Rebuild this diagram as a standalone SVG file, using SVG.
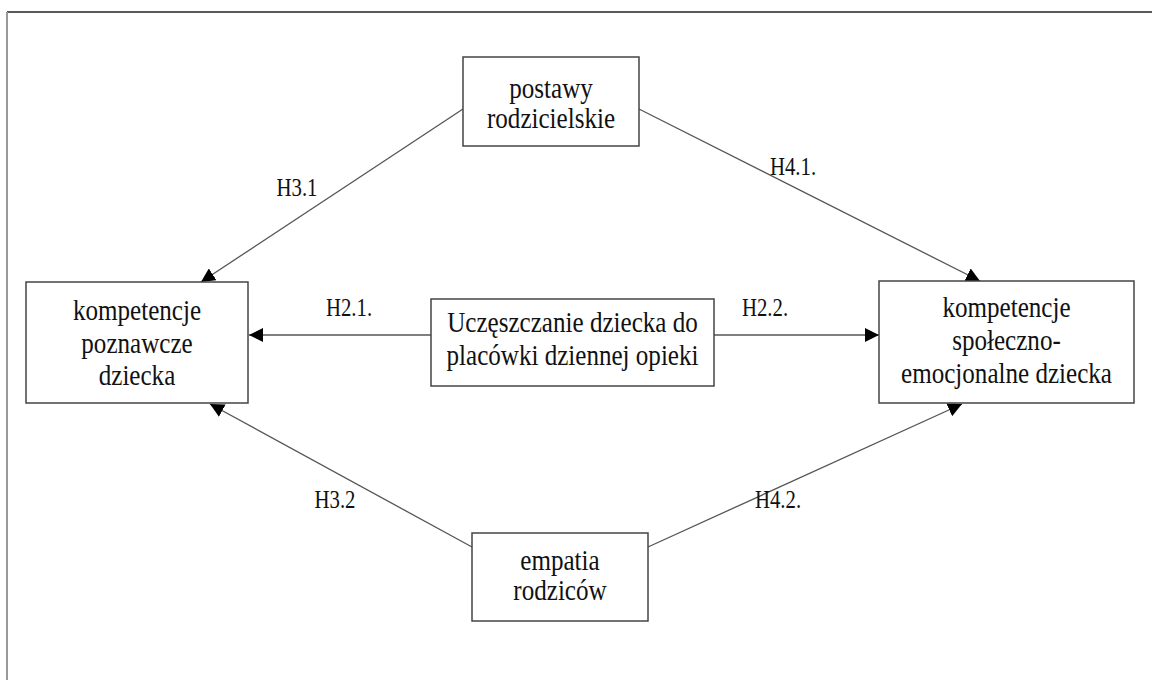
<svg xmlns="http://www.w3.org/2000/svg" width="1152" height="680" viewBox="0 0 1152 680">
<style>
  .box { fill: #fff; stroke: #444; stroke-width: 1.5; }
  .t { font-family: "Liberation Serif", "Times New Roman", serif; font-size: 28.5px; fill: #111; text-anchor: middle; }
  .lbl { font-family: "Liberation Serif", "Times New Roman", serif; font-size: 26px; fill: #111; text-anchor: middle; }
  .edge { stroke: #555; stroke-width: 1.3; fill: none; marker-end: url(#arr); }
</style>
<defs>
  <marker id="arr" markerUnits="userSpaceOnUse" markerWidth="14" markerHeight="14" viewBox="0 0 14 14" refX="14" refY="7" orient="auto">
    <path d="M0,0 L14,7 L0,14 Z" fill="#000"/>
  </marker>
</defs>
<rect width="1152" height="680" fill="#fff"/>
<line x1="7" y1="12" x2="1152" y2="12" stroke="#222" stroke-width="1.5"/>
<line x1="7" y1="12" x2="7" y2="680" stroke="#999" stroke-width="2"/>

<g id="connectors">
  <line class="edge" x1="463" y1="109" x2="201" y2="282"/>
  <line class="edge" x1="639" y1="109" x2="980" y2="281"/>
  <line class="edge" x1="431" y1="335" x2="249" y2="335"/>
  <line class="edge" x1="714" y1="335" x2="879" y2="335"/>
  <line class="edge" x1="472" y1="547" x2="210" y2="404"/>
  <line class="edge" x1="648" y1="547" x2="962" y2="404"/>
  <text class="lbl" transform="translate(297,196) scale(0.8,1)">H3.1</text>
  <text class="lbl" transform="translate(793,175) scale(0.8,1)">H4.1.</text>
  <text class="lbl" transform="translate(349,316) scale(0.8,1)">H2.1.</text>
  <text class="lbl" transform="translate(765,316) scale(0.8,1)">H2.2.</text>
  <text class="lbl" transform="translate(335,508) scale(0.8,1)">H3.2</text>
  <text class="lbl" transform="translate(778,508) scale(0.8,1)">H4.2.</text>
</g>

<g id="node-postawy">
  <rect class="box" x="463" y="57" width="176" height="89"/>
  <text class="t" transform="translate(551,98) scale(0.88,1)">postawy</text>
  <text class="t" transform="translate(551,128) scale(0.88,1)">rodzicielskie</text>
</g>

<g id="node-poznawcze">
  <rect class="box" x="26" y="282" width="222" height="121"/>
  <text class="t" transform="translate(137,320) scale(0.88,1)">kompetencje</text>
  <text class="t" transform="translate(137,353) scale(0.88,1)">poznawcze</text>
  <text class="t" transform="translate(137,385) scale(0.88,1)">dziecka</text>
</g>

<g id="node-uczeszczanie">
  <rect class="box" x="431" y="299" width="283" height="87"/>
  <text class="t" transform="translate(572.5,332) scale(0.88,1)">Uczęszczanie dziecka do</text>
  <text class="t" transform="translate(572.5,365) scale(0.88,1)">placówki dziennej opieki</text>
</g>

<g id="node-spoleczno">
  <rect class="box" x="879" y="281" width="255" height="122"/>
  <text class="t" transform="translate(1006.5,317) scale(0.88,1)">kompetencje</text>
  <text class="t" transform="translate(1006.5,350) scale(0.88,1)">społeczno-</text>
  <text class="t" transform="translate(1006.5,383) scale(0.88,1)">emocjonalne dziecka</text>
</g>

<g id="node-empatia">
  <rect class="box" x="472" y="533" width="176" height="88"/>
  <text class="t" transform="translate(560,570) scale(0.88,1)">empatia</text>
  <text class="t" transform="translate(560,600) scale(0.88,1)">rodziców</text>
</g>
</svg>
